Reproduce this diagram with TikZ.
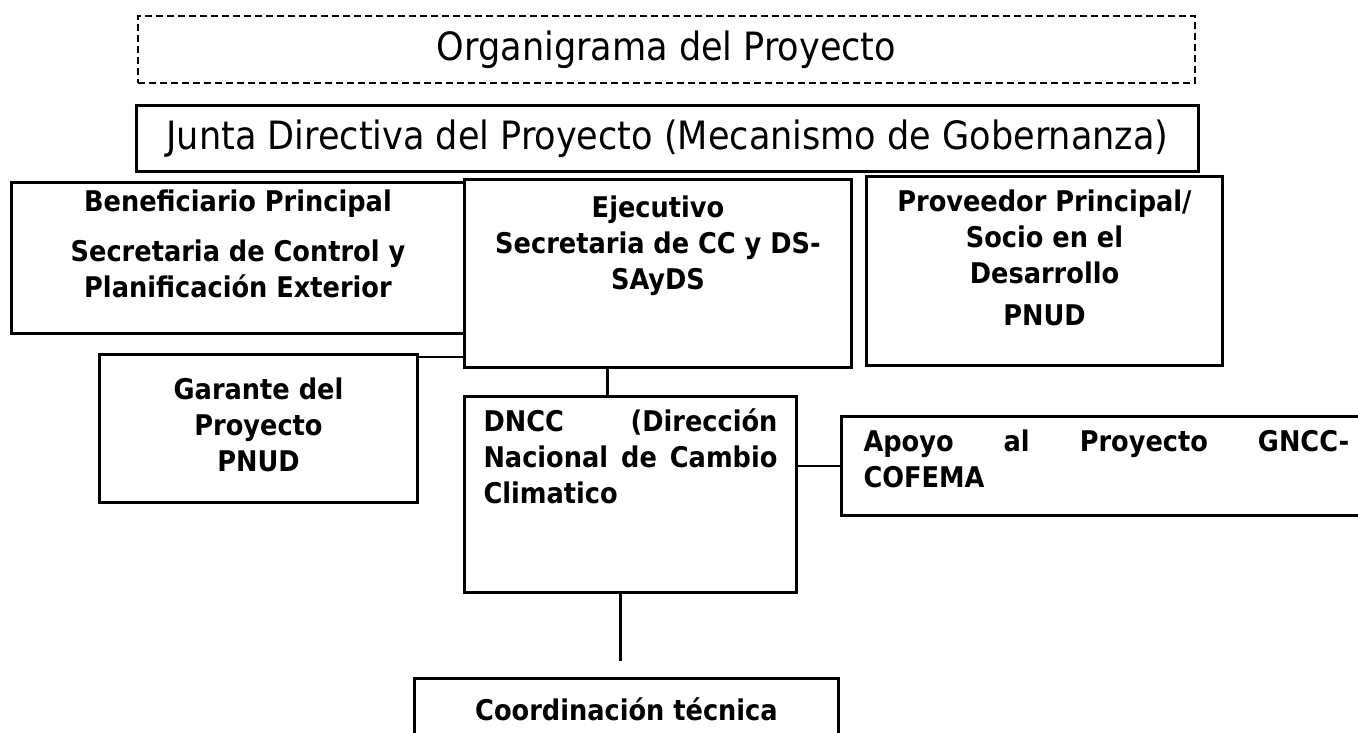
\documentclass[tikz,border=0pt]{standalone}
\usepackage{fontspec}
\setmainfont{DejaVu Sans Condensed}
\usetikzlibrary{positioning}
\newcommand{\titlefont}{\fontsize{39}{42}\selectfont}
\newcommand{\cajafont}{\fontsize{28.5}{36}\selectfont\bfseries}
\tikzset{
  orgbox/.style={draw, line width=3pt, inner sep=0pt, anchor=north west, align=center},
  dashbox/.style={orgbox, line width=2.2pt, dash pattern=on 7pt off 4pt},
  conn/.style={draw, line width=2.4pt}
}

\begin{document}
\begin{tikzpicture}[x=1pt, y=-1pt]
  \useasboundingbox (0,0) rectangle (1358,733);
  \clip (0,0) rectangle (1358,733);

  % titles
  \node[dashbox, font=\titlefont, minimum width=1057pt, minimum height=67pt]
    (titulo) at (137,15) {Organigrama del Proyecto};
  \node[orgbox, font=\titlefont, minimum width=1062pt, minimum height=66pt]
    (junta) at (135,104) {Junta Directiva del Proyecto (Mecanismo de Gobernanza)};

  % first row
  \node[orgbox, font=\cajafont, minimum width=453pt, minimum height=151pt]
    (benef) at (10,181) {%
      \begin{tabular}{@{}c@{}}
      Beneficiario Principal\\[14pt]
      Secretaria de Control y\\
      Planificación Exterior\\[22pt]
      \end{tabular}};
  \node[orgbox, font=\cajafont, minimum width=387pt, minimum height=188pt]
    (ejec) at (463,178) {%
      \begin{tabular}{@{}c@{}}
      Ejecutivo\\
      Secretaria de CC y DS-\\
      SAyDS\\[55pt]
      \end{tabular}};
  \node[orgbox, font=\cajafont, minimum width=356pt, minimum height=189pt]
    (prov) at (865,175) {%
      \begin{tabular}{@{}c@{}}
      Proveedor Principal/\\
      Socio en el\\
      Desarrollo\\[6pt]
      PNUD\\[20pt]
      \end{tabular}};

  % second row
  \node[orgbox, font=\cajafont, minimum width=318pt, minimum height=148pt]
    (garante) at (98,353) {%
      \begin{tabular}{@{}c@{}}
      Garante del\\
      Proyecto\\
      PNUD
      \end{tabular}};
  \node[orgbox, font=\cajafont, minimum width=332pt, minimum height=196pt]
    (dncc) at (463,395) {%
      \begin{tabular}{@{}p{294pt}@{}}
      \makebox[\linewidth][s]{DNCC (Dirección}\\
      \makebox[\linewidth][s]{Nacional de Cambio}\\
      Climatico\\[68pt]
      \end{tabular}};
  \node[orgbox, font=\cajafont, minimum width=530pt, minimum height=99pt]
    (apoyo) at (840,415) {%
      \begin{tabular}{@{}p{486pt}@{}}
      \makebox[\linewidth][s]{Apoyo al Proyecto GNCC-}\\
      COFEMA\\[8pt]
      \end{tabular}};
  \node[orgbox, font=\cajafont, minimum width=424pt, minimum height=62pt]
    (coord) at (413,677) {Coordinación técnica};

  % connectors
  \draw[conn] ([yshift=-4pt]garante.north east) -- ([yshift=-4pt]garante.north east -| ejec.west);
  \draw[conn] ([xshift=-50.5pt]ejec.south) -- ([xshift=-50.5pt]ejec.south |- dncc.north);
  \draw[conn] (dncc.east |- apoyo.west) -- (apoyo.west);
  \coordinate (fin) at ([xshift=-6pt, yshift=16pt]coord.north);
  \draw[conn] (dncc.south -| fin) -- (fin);
\end{tikzpicture}
\end{document}
